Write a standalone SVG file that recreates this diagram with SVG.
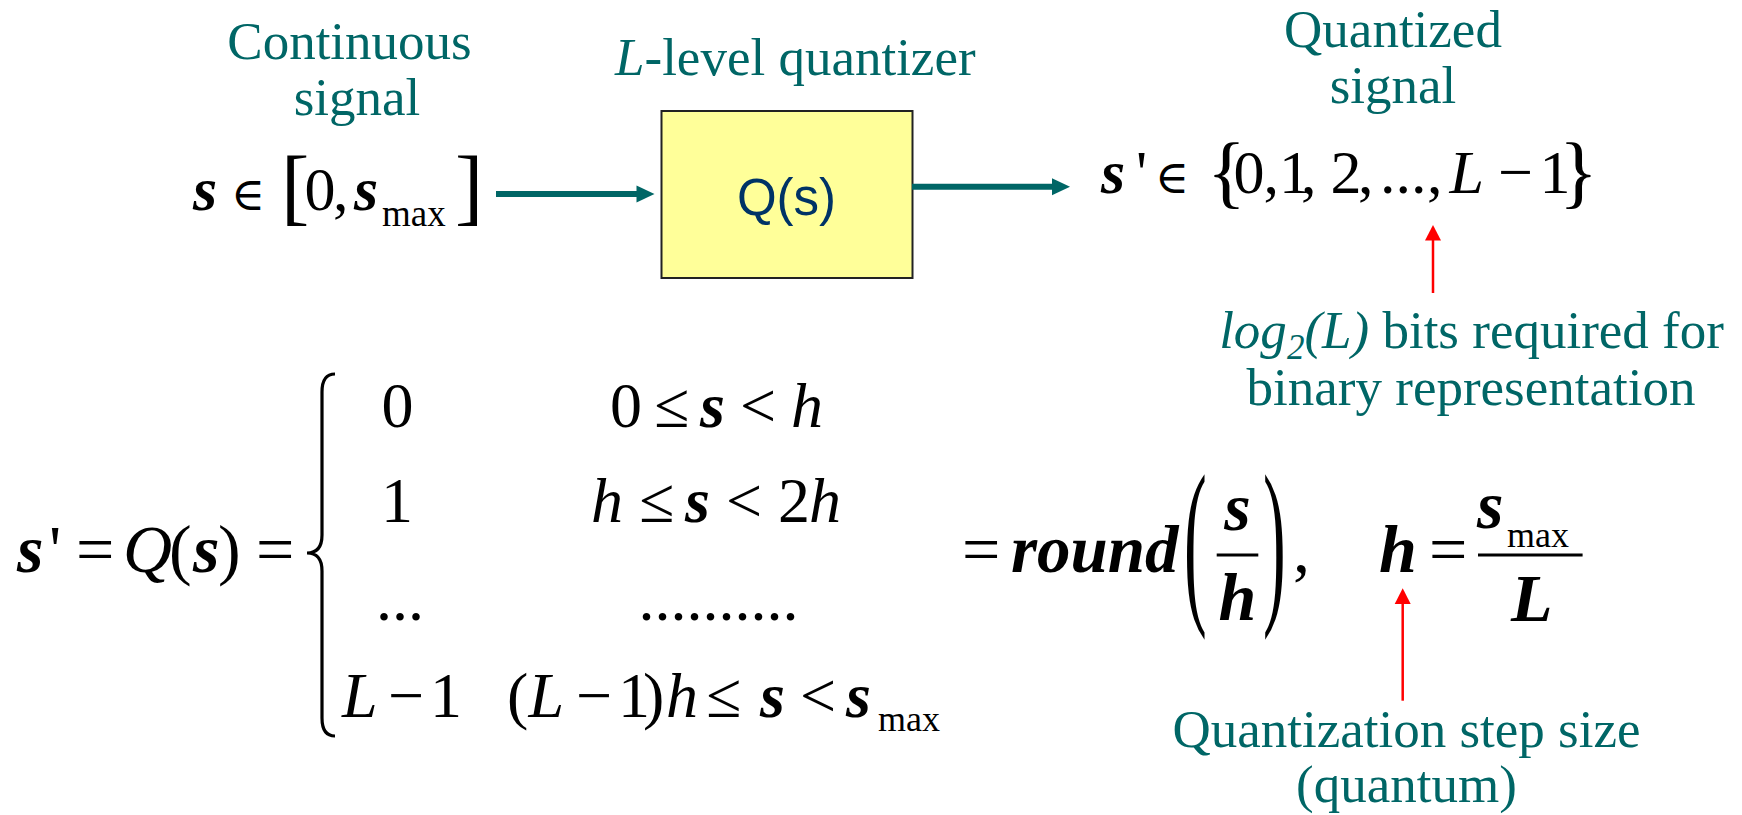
<svg xmlns="http://www.w3.org/2000/svg" width="1742" height="815" viewBox="0 0 1742 815">
<style>
.t{font-family:"Liberation Serif","Times New Roman",serif;font-size:53px;fill:#006666}
.m{font-family:"Liberation Serif","DejaVu Serif",serif;fill:#000}
.el{font-family:"DejaVu Serif",serif;font-size:46px}
.bi{font-weight:bold;font-style:italic}
.i{font-style:italic}
.arrow{stroke:#006666;stroke-width:6;fill:none}
.ahead{fill:#006666}
.red{stroke:#ff0000;stroke-width:2.5;fill:none}
.rhead{fill:#ff0000}
.bar{stroke:#000;stroke-width:3}
</style>
<rect width="1742" height="815" fill="#fff"/>

<g id="continuous-signal">
<text class="t" x="349.5" y="59" text-anchor="middle">Continuous</text>
<text class="t" x="357" y="115" text-anchor="middle">signal</text>
</g>

<g id="input-expr">
<text class="m" font-size="62" y="210"><tspan x="193" class="bi">s</tspan><tspan x="231" class="el">∈</tspan><tspan x="281" font-size="85" dy="4.7">[</tspan><tspan x="304.5" dy="-4.7">0</tspan><tspan x="333">,</tspan><tspan x="354" class="bi">s</tspan><tspan x="382" font-size="37" dy="16">max</tspan><tspan x="455" font-size="85" dy="-11.3">]</tspan></text>
</g>

<g id="quantizer">
<text class="t" x="615" y="75"><tspan font-style="italic">L</tspan>-level quantizer</text>
<rect x="661.5" y="111" width="251" height="167" fill="#ffff99" stroke="#222" stroke-width="2"/>
<text x="786.5" y="215" text-anchor="middle" font-family="'Liberation Sans',Arial,sans-serif" font-size="51" fill="#003366">Q(s)</text>
</g>

<g id="quantized-signal">
<text class="t" x="1393" y="47" text-anchor="middle">Quantized</text>
<text class="t" x="1393" y="103" text-anchor="middle">signal</text>
</g>

<g id="output-expr">
<text class="m" font-size="62" y="193.3"><tspan x="1101" class="bi">s</tspan><tspan x="1136">'</tspan><tspan x="1155" class="el">∈</tspan><tspan x="1207" font-size="81" dy="5">{</tspan><tspan x="1233.5" dy="-5">0</tspan><tspan x="1263.5">,</tspan><tspan x="1279">1</tspan><tspan x="1301">,</tspan><tspan x="1330.5">2</tspan><tspan x="1358">,</tspan><tspan x="1380">...</tspan><tspan x="1427">,</tspan><tspan x="1449.5" font-style="italic">L</tspan><tspan x="1498">−</tspan><tspan x="1539.6">1</tspan><tspan x="1559" font-size="81" dy="5">}</tspan></text>
</g>

<g id="bits-note">
<text class="t" x="1471.5" y="348.3" text-anchor="middle"><tspan font-style="italic">log</tspan><tspan font-style="italic" font-size="35" dy="11">2</tspan><tspan font-style="italic" dy="-11">(L)</tspan> bits required for</text>
<text class="t" x="1471" y="405" text-anchor="middle">binary representation</text>
</g>

<g id="formula">
<text class="m" font-size="68" y="571.7"><tspan x="17" class="bi">s</tspan><tspan x="49">'</tspan><tspan x="76">=</tspan><tspan x="123" class="i">Q</tspan><tspan x="169">(</tspan><tspan x="193" class="bi">s</tspan><tspan x="218">)</tspan><tspan x="256">=</tspan></text>
<path d="M335,374 Q322,374 322,392 L322,535 Q322,553 307,553 Q322,553 322,571 L322,718 Q322,736 335,736" fill="none" stroke="#000" stroke-width="3.2"/>
<text class="m" font-size="64" y="426.7"><tspan x="381.5">0</tspan><tspan x="610">0</tspan><tspan x="654">≤</tspan><tspan x="700" class="bi">s</tspan><tspan x="740">&lt;</tspan><tspan x="791" class="i">h</tspan></text>
<text class="m" font-size="64" y="521.7"><tspan x="381">1</tspan><tspan x="591" class="i">h</tspan><tspan x="639">≤</tspan><tspan x="685" class="bi">s</tspan><tspan x="726">&lt;</tspan><tspan x="778">2</tspan><tspan x="809" class="i">h</tspan></text>
<text class="m" font-size="64" y="620"><tspan x="376">...</tspan><tspan x="638.5">..........</tspan></text>
<text class="m" font-size="64" y="716.7"><tspan x="342" class="i">L</tspan><tspan x="388">−</tspan><tspan x="430">1</tspan><tspan x="507">(</tspan><tspan x="528.5" class="i">L</tspan><tspan x="576">−</tspan><tspan x="618">1</tspan><tspan x="643">)</tspan><tspan x="666" class="i">h</tspan><tspan x="706">≤</tspan><tspan x="760" class="bi">s</tspan><tspan x="800">&lt;</tspan><tspan x="846" class="bi">s</tspan><tspan x="878" font-size="36" dy="14.3">max</tspan></text>
<text class="m" font-size="68" y="571.7"><tspan x="962">=</tspan><tspan x="1011" class="bi" font-size="67">round</tspan></text>
<text class="m" font-size="62" transform="translate(1184,600.6) scale(1.1,2.95)">(</text>
<text x="1237.5" y="530" class="m bi" font-size="68" text-anchor="middle">s</text>
<line x1="1216.7" y1="555" x2="1258.3" y2="555" class="bar"/>
<text x="1237.5" y="620" class="m bi" font-size="68" text-anchor="middle">h</text>
<text class="m" font-size="62" transform="translate(1263,600.6) scale(1.1,2.95)">)</text>
<text class="m" font-size="68" y="571.7"><tspan x="1293">,</tspan><tspan x="1379" class="bi">h</tspan><tspan x="1429">=</tspan></text>
<text class="m" font-size="68" y="528"><tspan x="1477" class="bi">s</tspan><tspan x="1507" font-size="36" dy="18.7">max</tspan></text>
<line x1="1478" y1="555" x2="1582.6" y2="555" class="bar"/>
<text x="1511" y="620.7" class="m bi" font-size="68">L</text>
</g>

<g id="step-note">
<text class="t" x="1406.5" y="747" text-anchor="middle">Quantization step size</text>
<text class="t" x="1406.5" y="802" text-anchor="middle">(quantum)</text>
</g>

<g id="connectors">
<line x1="496" y1="194" x2="640" y2="194" class="arrow"/>
<polygon points="636.5,185.5 654.5,194 636.5,202.5" class="ahead"/>
<line x1="912" y1="186.7" x2="1055" y2="186.7" class="arrow"/>
<polygon points="1052,178.2 1070,186.7 1052,195.2" class="ahead"/>
<line x1="1433" y1="293" x2="1433" y2="236" class="red"/>
<polygon points="1425,240.5 1433,225 1441,240.5" class="rhead"/>
<line x1="1402.7" y1="700.7" x2="1402.7" y2="600" class="red"/>
<polygon points="1394.7,604 1402.7,588.3 1410.7,604" class="rhead"/>
</g>
</svg>
